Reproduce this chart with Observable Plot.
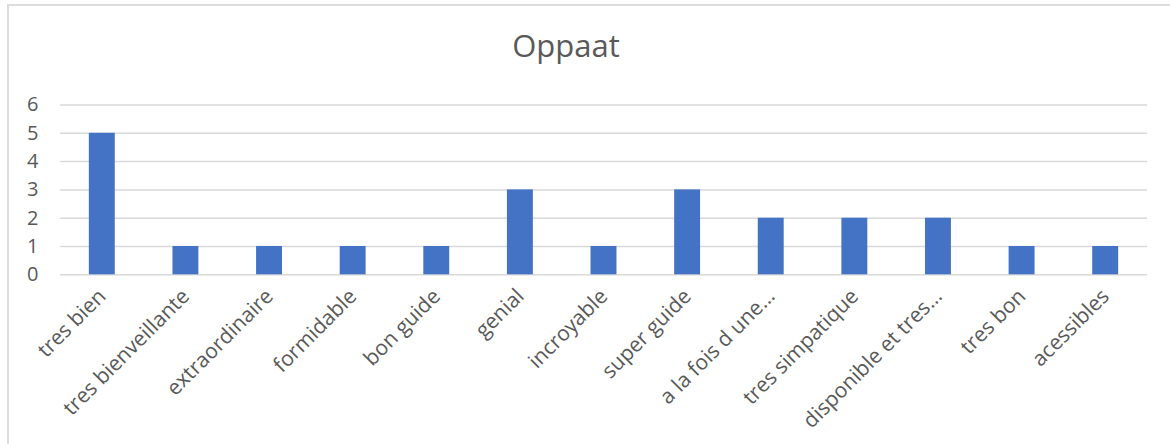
<!DOCTYPE html>
<html>
<head>
<meta charset="utf-8">
<script src="https://cdn.jsdelivr.net/npm/d3@7"></script>
<script src="https://cdn.jsdelivr.net/npm/@observablehq/plot@0.6"></script>
<style>
  html, body { margin: 0; padding: 0; background: #fff; }
  #wrap { position: relative; width: 1170px; height: 444px; overflow: hidden; font-family: "Open Sans", sans-serif; }
  #frame { position: absolute; left: 7px; top: 4px; width: 1300px; height: 600px; border-top: 2px solid #dcdcdc; border-left: 2px solid #dcdcdc; box-sizing: border-box; }
  #title { position: absolute; left: 0; top: 0; width: 1132px; height: 80px; text-align: center; font-size: 31px; line-height: 31px; padding-top: 30px; box-sizing: border-box; color: #595959; }
  #chart { position: absolute; left: 0; top: 80px; }
</style>
</head>
<body>
<div id="wrap">
  <div id="frame"></div>
  <div id="title">Oppaat</div>
  <div id="chart"></div>
</div>
<script>
const categories = ["tres bien", "tres bienveillante", "extraordinaire", "formidable", "bon guide", "genial", "incroyable", "super guide", "a la fois d une…", "tres simpatique", "disponible et tres…", "tres bon", "acessibles"];
const counts = [5, 1, 1, 1, 1, 3, 1, 3, 2, 2, 2, 1, 1];
const yTicks = [0, 1, 2, 3, 4, 5, 6];

const data = categories.map((c, i) => ({category: c, count: counts[i]}));

const chart = Plot.plot({
  width: 1170,
  height: 364,
  marginLeft: 60,
  marginRight: 23,
  marginTop: 24.5,
  marginBottom: 169.7,
  style: {fontFamily: "Open Sans, sans-serif", fontSize: "20px", color: "#595959", background: "transparent"},
  x: {domain: categories, paddingInner: 0.69, paddingOuter: 0.345, round: false, label: null},
  y: {domain: [0, 6], label: null},
  marks: [
    Plot.ruleY(yTicks, {stroke: "#d9d9d9", strokeWidth: 1.5}),
    Plot.barY(data, {x: "category", y: "count", fill: "#4472c4"}),
    Plot.axisY({ticks: yTicks, tickFormat: d3.format("d"), tickSize: 0, tickPadding: 22, label: null, fontSize: 20, fill: "#595959"}),
    Plot.axisX({tickSize: 0, tickPadding: 18, tickRotate: -45, label: null, fontSize: 21, fill: "#595959"})
  ]
});
document.getElementById("chart").appendChild(chart);
</script>
</body>
</html>
